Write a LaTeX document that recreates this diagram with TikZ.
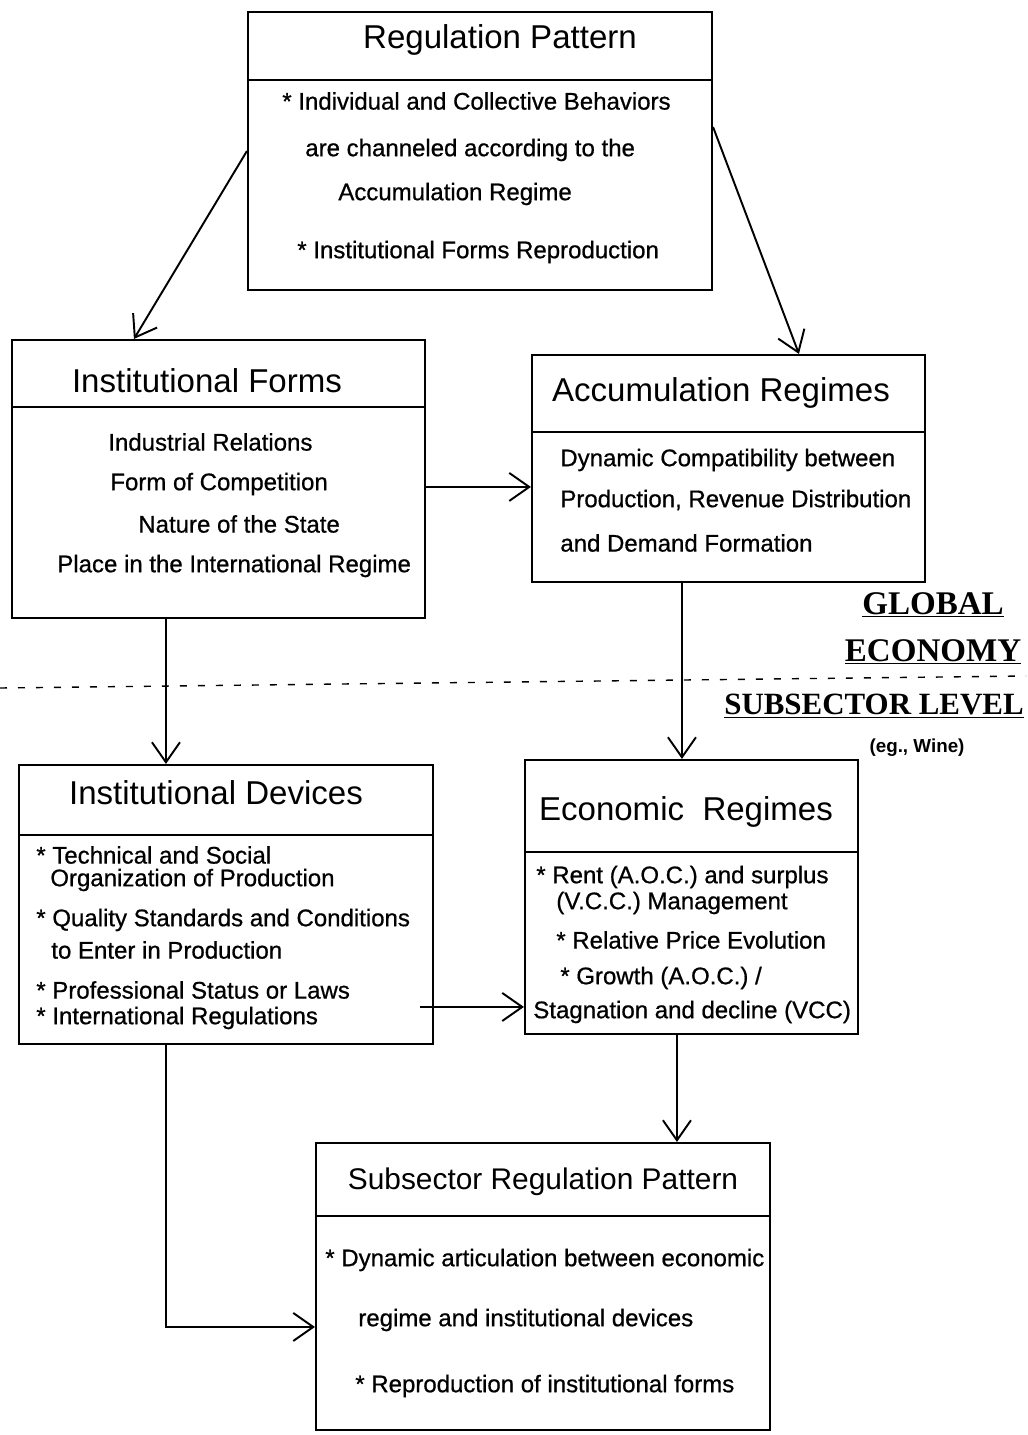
\documentclass[tikz,border=0pt]{standalone}
\usepackage{fontspec}
\setmainfont{Liberation Sans}
\newfontfamily\bodyf{Liberation Sans}[BoldFont={Liberation Sans}, BoldFeatures={FakeBold=0.7}]
\newfontfamily\labelfont{Liberation Serif}
\usetikzlibrary{arrows.meta,fit,calc}
\begin{document}
\begin{tikzpicture}[x=0.2mm,y=-0.2mm,
  box/.style={draw, line width=1.2pt, inner sep=0pt},
  divl/.style={line width=1.2pt},
  ttl/.style={font=\bodyf\fontsize{18.8}{22}\selectfont, inner sep=0pt},
  ttls/.style={font=\bodyf\fontsize{17}{20}\selectfont, inner sep=0pt},
  bd/.style={font=\bodyf\bfseries\fontsize{13.66}{16}\selectfont, inner sep=0pt, anchor=west},
  glob/.style={font=\labelfont\bfseries\fontsize{18.8}{22}\selectfont, inner sep=0pt},
  globs/.style={font=\labelfont\bfseries\fontsize{17.6}{20}\selectfont, inner sep=0pt},
  note/.style={font=\bfseries\fontsize{10.7}{13}\selectfont, inner sep=0pt},
  arr/.style={line width=1.1pt, -{Straight Barb[length=4mm,width=5.6mm,line width=1.1pt]}},
  sep/.style={line width=0.8pt, dash pattern=on 1.4mm off 2.2mm}
]
\fill[white] (0,0) rectangle (1028,1435);
\useasboundingbox (0,0) rectangle (1028,1435);

% ---------- boxes ----------
\node[box, fit={(248,12) (712,290)}] (rp) {};
\draw[divl] (248,80) -- (712,80);
\node[ttl] (rpt) at (500,40) {Regulation Pattern};
\node[bd] (rp1) at (282,101) {* Individual and Collective Behaviors};
\node[bd] (rp2) at (305,150) {are channeled according to the};
\node[bd] (rp3) at (338,194) {Accumulation Regime};
\node[bd] (rp4) at (297,252) {* Institutional Forms Reproduction};

\node[box, fit={(12,340) (425,618)}] (ifb) {};
\draw[divl] (12,407) -- (425,407);
\node[ttl] (ift) at (207,381) {Institutional Forms};
\node[bd] (if1) at (108,442) {Industrial Relations};
\node[bd] (if2) at (110,484) {Form of Competition};
\node[bd] (if3) at (138,524) {Nature of the State};
\node[bd] (if4) at (57,566) {Place in the International Regime};

\node[box, fit={(532,355) (925,582)}] (ar) {};
\draw[divl] (532,432) -- (925,432);
\node[ttl] (art) at (721,393) {Accumulation Regimes};
\node[bd] (ar1) at (560,460) {Dynamic Compatibility between};
\node[bd] (ar2) at (560,500) {Production, Revenue Distribution};
\node[bd] (ar3) at (560,543) {and Demand Formation};

\node[box, fit={(19,765) (433,1044)}] (idb) {};
\draw[divl] (19,835) -- (433,835);
\node[ttl] (idt) at (216,793) {Institutional Devices};
\node[bd] (id1) at (36,855) {* Technical and Social};
\node[bd] (id2) at (50,880) {Organization of Production};
\node[bd] (id3) at (36,920) {* Quality Standards and Conditions};
\node[bd] (id4) at (51,950) {to Enter in Production};
\node[bd] (id5) at (36,990) {* Professional Status or Laws};
\node[bd] (id6) at (36,1018) {* International Regulations};

\node[box, fit={(525,760) (858,1034)}] (er) {};
\draw[divl] (525,852) -- (858,852);
\node[ttl] (ert) at (686,812) {Economic\hspace{0.28em} Regimes};
\node[bd] (er1) at (536,877) {* Rent (A.O.C.) and surplus};
\node[bd] (er2) at (556,903) {(V.C.C.) Management};
\node[bd] (er3) at (556,940) {* Relative Price Evolution};
\node[bd] (er4) at (560,978) {* Growth (A.O.C.) /};
\node[bd] (er5) at (533,1012) {Stagnation and decline (VCC)};

\node[box, fit={(316,1143) (770,1430)}] (srp) {};
\draw[divl] (316,1216) -- (770,1216);
\node[ttls] (srpt) at (543,1182) {Subsector Regulation Pattern};
\node[bd] (srp1) at (325,1260) {* Dynamic articulation between economic};
\node[bd] (srp2) at (358,1320) {regime and institutional devices};
\node[bd] (srp3) at (355,1386) {* Reproduction of institutional forms};

% ---------- level separator and labels ----------
\draw[sep] (0,688) -- (1026,676);
\node[glob] (lg1) at (933,605) {\underline{GLOBAL}};
\node[glob] (lg2) at (933,652) {\underline{ECONOMY}};
\node[globs] (lg3) at (874,706) {\underline{SUBSECTOR LEVEL}};
\node[note] (lg4) at (917,748) {(eg., Wine)};

% ---------- connectors ----------
\draw[arr] (rp.west) -- ($(ifb.north west)+(123,0)$);
\draw[arr] ($(rp.north east)+(0,116)$) -- ($(ar.north west)+(268,0)$);
\coordinate (a3) at ($(ifb.north east)+(0,148)$);
\draw[arr] (a3) -- (a3 -| ar.west);
\coordinate (a4) at ($(ar.south west)+(151,0)$);
\draw[arr] (a4) -- (a4 |- er.north);
\coordinate (a5) at ($(ifb.south west)+(155,0)$);
\draw[arr] (a5) -- (a5 |- idb.north);
\coordinate (a6) at ($(idb.north east)+(-14,243)$);
\draw[arr] (a6) -- (a6 -| er.west);
\coordinate (a7) at ($(er.south west)+(153,0)$);
\draw[arr] (a7) -- (a7 |- srp.north);
\coordinate (a8) at ($(idb.south west)+(148,0)$);
\coordinate (a8b) at ($(srp.north west)+(0,185)$);
\draw[arr] (a8) |- (a8b);
\end{tikzpicture}
\end{document}
